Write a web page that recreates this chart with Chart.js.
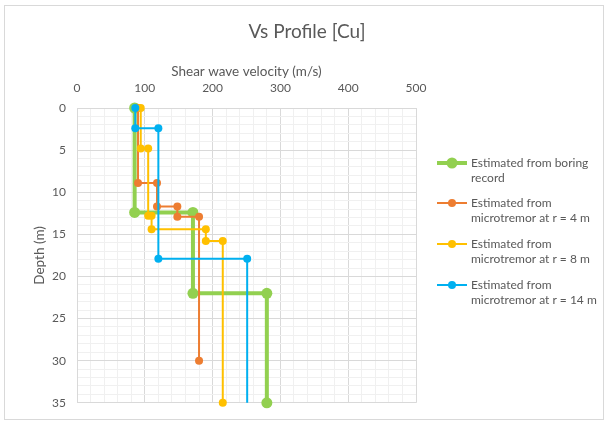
<!DOCTYPE html>
<html>
<head>
<meta charset="utf-8">
<script src="https://cdn.jsdelivr.net/npm/chart.js@4"></script>
<style>
html,body{margin:0;padding:0;background:#fff;}
canvas{display:block;}
</style>
</head>
<body>
<canvas id="c" width="605" height="421"></canvas>
<script>
// ---- data ----
const chartTitle = "Vs Profile [Cu]";
const xTitle = "Shear wave velocity (m/s)";
const yTitle = "Depth (m)";
const seriesNames = [
  ["Estimated from boring", "record"],
  ["Estimated from", "microtremor at r = 4 m"],
  ["Estimated from", "microtremor at r = 8 m"],
  ["Estimated from", "microtremor at r = 14 m"]
];
const boringVs    = [85, 85, 171, 171, 280, 280];
const boringDepth = [0, 12.4, 12.4, 22, 22, 35];
const r4Vs    = [90, 90, 118, 118, 148, 148, 180, 180];
const r4Depth = [0, 8.9, 8.9, 11.7, 11.7, 12.9, 12.9, 30];
const r8Vs    = [94, 94, 105, 105, 110, 110, 190, 190, 215, 215];
const r8Depth = [0, 4.8, 4.8, 12.8, 12.8, 14.4, 14.4, 15.8, 15.8, 35];
const r14Vs    = [86, 86, 120, 120, 251, 251];
const r14Depth = [0, 2.4, 2.4, 17.9, 17.9, 35];
const xTickLabels = [0, 100, 200, 300, 400, 500];
const yTickLabels = [0, 5, 10, 15, 20, 25, 30, 35];

// ---- styles ----
const colors = ["#92D050", "#ED7D31", "#FFC000", "#00B0F0"];
const FONT = "Lato, 'Open Sans', sans-serif";
const TXT = "#595959";
const MAJOR = "#d9d9d9";
const MINOR = "#f0f0f0";

function pts(xs, ys){ return xs.map((v,i)=>({x:v, y:ys[i]})); }

function ds(idx, xs, ys, lw, r, lastMarker){
  const radius = xs.map((_,i)=> (i===xs.length-1 && !lastMarker) ? 0 : r);
  return {
    label: seriesNames[idx].join(" "),
    data: pts(xs, ys),
    showLine: true,
    borderColor: colors[idx],
    backgroundColor: colors[idx],
    borderWidth: lw,
    pointRadius: radius,
    pointHoverRadius: radius,
    pointBorderWidth: 0,
    pointBackgroundColor: colors[idx],
    tension: 0,
    clip: false,
    order: 4 - idx,
    legendLineWidth: lw,
    legendRadius: r
  };
}

const frameTitlePlugin = {
  id: 'frameTitle',
  beforeDraw(chart){
    const ctx = chart.ctx;
    ctx.save();
    ctx.fillStyle = "#fff";
    ctx.fillRect(0,0,chart.width,chart.height);
    ctx.strokeStyle = MAJOR;
    ctx.lineWidth = 1;
    ctx.strokeRect(4.5, 5.5, 599, 414);
    ctx.restore();
  },
  afterDraw(chart){
    const ctx = chart.ctx;
    ctx.save();
    ctx.fillStyle = TXT;
    ctx.font = "19px " + FONT;
    ctx.textAlign = "center";
    ctx.textBaseline = "middle";
    ctx.fillText(chartTitle, 307, 32);
    // legend
    const tops = [163, 203, 244, 285];
    ctx.font = "12px " + FONT;
    ctx.textAlign = "left";
    chart.data.datasets.forEach((d, i) => {
      const y = tops[i];
      ctx.strokeStyle = d.borderColor;
      ctx.lineWidth = d.legendLineWidth;
      ctx.beginPath();
      ctx.moveTo(437, y);
      ctx.lineTo(467, y);
      ctx.stroke();
      ctx.fillStyle = d.borderColor;
      ctx.beginPath();
      ctx.arc(452, y, d.legendRadius, 0, Math.PI*2);
      ctx.fill();
      ctx.fillStyle = TXT;
      seriesNames[i].forEach((line, k) => {
        ctx.fillText(line, 471, y + k*15.5);
      });
    });
    ctx.restore();
  }
};

new Chart(document.getElementById('c'), {
  type: 'scatter',
  data: {
    datasets: [
      ds(0, boringVs, boringDepth, 4, 5.5, true),
      ds(1, r4Vs, r4Depth, 2, 4, true),
      ds(2, r8Vs, r8Depth, 2, 4, true),
      ds(3, r14Vs, r14Depth, 2, 4, false)
    ]
  },
  options: {
    responsive: false,
    animation: false,
    devicePixelRatio: 1,
    layout: { padding: { left: 5, top: 50, right: 189, bottom: 16 } },
    plugins: {
      legend: { display: false },
      title: { display: false },
      tooltip: { enabled: false }
    },
    scales: {
      x: {
        type: 'linear',
        position: 'top',
        min: 0, max: 500,
        afterFit(s){ s.height = 58; },
        ticks: {
          stepSize: 20,
          autoSkip: false,
          maxRotation: 0,
          padding: 13,
          color: TXT,
          font: { family: FONT, size: 12 },
          callback: (v) => xTickLabels.includes(v) ? String(v) : ''
        },
        grid: {
          drawTicks: false,
          color: (c) => (c.tick && c.tick.value % 100 === 0) ? MAJOR : MINOR,
          lineWidth: 1
        },
        border: { color: MAJOR },
        title: {
          display: true,
          text: xTitle,
          color: TXT,
          font: { family: FONT, size: 13.5 },
          padding: { top: 14, bottom: 0 }
        }
      },
      y: {
        type: 'linear',
        reverse: true,
        min: 0, max: 35,
        afterFit(s){ s.width = 72; },
        ticks: {
          stepSize: 1,
          autoSkip: false,
          padding: 11,
          color: TXT,
          font: { family: FONT, size: 12 },
          callback: (v) => yTickLabels.includes(v) ? String(v) : ''
        },
        grid: {
          drawTicks: false,
          color: (c) => (c.tick && c.tick.value % 5 === 0) ? MAJOR : MINOR,
          lineWidth: 1
        },
        border: { color: MAJOR },
        title: {
          display: true,
          text: yTitle,
          color: TXT,
          font: { family: FONT, size: 13.5 },
          padding: { top: 27, bottom: 0 }
        }
      }
    }
  },
  plugins: [frameTitlePlugin]
});
</script>
</body>
</html>
